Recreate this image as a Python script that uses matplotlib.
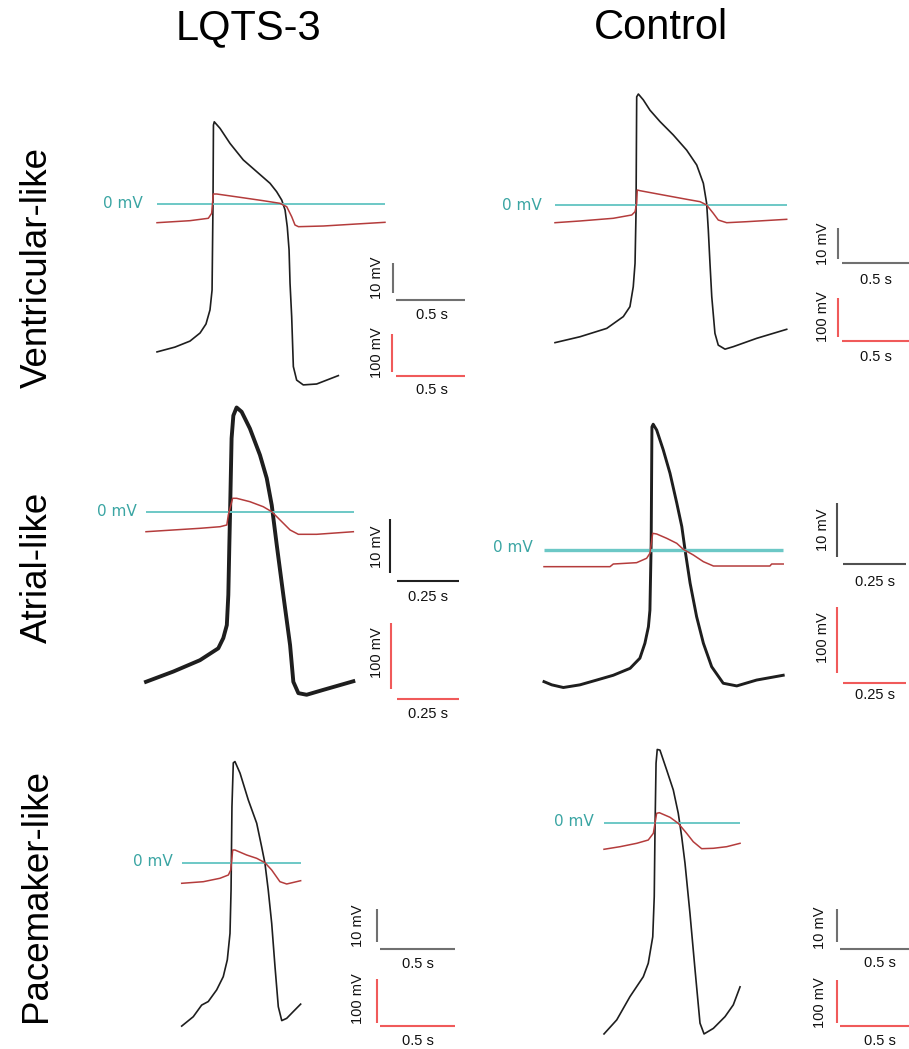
import matplotlib
matplotlib.use("Agg")
import matplotlib.pyplot as plt

W, H = 909, 1049

# ---------------- data (time in s, voltage in mV) ----------------
col_titles = ["LQTS-3", "Control"]
row_titles = ["Ventricular-like", "Atrial-like", "Pacemaker-like"]

# LQTS-3 ventricular-like
lv_black_t = [0.000, 0.130, 0.239, 0.312, 0.355, 0.384, 0.399, 0.406, 0.409, 0.415, 0.457, 0.529,
              0.625, 0.722, 0.819, 0.867, 0.904, 0.928, 0.944, 0.957, 0.964, 0.976, 0.988, 1.012,
              1.060, 1.157, 1.314]
lv_black_v = [-49.3, -47.7, -45.7, -43.0, -40.0, -35.3, -28.7, 1.3, 26.3, 27.4, 25.2, 20.2,
              14.7, 10.8, 6.9, 4.1, 1.3, -2.0, -7.6, -15.3, -26.4, -37.6, -54.2, -58.7,
              -60.3, -60.0, -57.2]
lv_red_t = [0.000, 0.239, 0.372, 0.396, 0.408, 0.433, 0.601, 0.770, 0.891, 0.940, 0.976, 1.000,
            1.025, 1.206, 1.447, 1.652]
lv_red_v = [-49.2, -43.9, -37.6, -24.5, 26.3, 26.3, 17.6, 8.7, 1.8, -7.1, -33.4, -55.3,
            -59.7, -57.9, -52.6, -48.2]

# Control ventricular-like
cv_black_t = [0.000, 0.181, 0.375, 0.495, 0.543, 0.567, 0.580, 0.587, 0.592, 0.604, 0.640, 0.688,
              0.761, 0.857, 0.954, 1.027, 1.075, 1.099, 1.111, 1.123, 1.136, 1.159, 1.183, 1.232,
              1.292, 1.462, 1.679]
cv_black_v = [-44.4, -42.5, -39.8, -36.0, -32.8, -26.4, -18.8, -2.7, 34.9, 35.8, 33.9, 30.6,
              26.9, 22.6, 17.7, 12.9, 7.0, 0.5, -8.1, -18.8, -29.6, -41.4, -45.2, -46.5,
              -45.7, -43.0, -40.1]
cv_red_t = [0.000, 0.181, 0.422, 0.556, 0.580, 0.592, 0.596, 0.616, 0.785, 0.954, 1.051, 1.099,
            1.147, 1.183, 1.244, 1.389, 1.679]
cv_red_v = [-45.4, -41.0, -34.1, -25.6, -17.2, 4.4, 38.5, 36.7, 25.6, 14.6, 8.5, 0.0,
            -21.3, -38.5, -45.4, -42.8, -36.7]

# LQTS-3 atrial-like
la_black_t = [0.000, 0.109, 0.215, 0.288, 0.308, 0.322, 0.328, 0.332, 0.335, 0.341, 0.348, 0.361,
              0.381, 0.414, 0.454, 0.481, 0.501, 0.521, 0.547, 0.574, 0.587, 0.607, 0.640, 0.706,
              0.826]
la_black_v = [-31.5, -29.6, -27.5, -25.3, -23.4, -21.0, -15.4, -6.2, 0.0, 13.6, 17.8, 19.3,
              18.5, 15.4, 10.5, 6.2, 1.2, -6.2, -15.4, -24.7, -31.5, -33.6, -33.9, -33.0,
              -31.4]
la_red_t = [0.000, 0.109, 0.215, 0.295, 0.322, 0.328, 0.345, 0.361, 0.414, 0.467, 0.501, 0.534,
            0.574, 0.607, 0.680, 0.826]
la_red_v = [-30.0, -27.4, -24.9, -22.5, -19.9, -4.9, 20.1, 20.1, 15.0, 7.5, 0.0, -12.4,
            -27.4, -33.9, -33.9, -30.0]

# Control atrial-like
ca_black_t = [0.000, 0.031, 0.077, 0.143, 0.210, 0.276, 0.343, 0.382, 0.402, 0.416, 0.422, 0.427,
              0.430, 0.435, 0.449, 0.475, 0.502, 0.529, 0.549, 0.562, 0.582, 0.608, 0.635, 0.668,
              0.714, 0.768, 0.847, 0.953]
ca_black_v = [-24.7, -25.3, -25.8, -25.3, -24.4, -23.5, -22.2, -20.3, -17.5, -14.4, -11.3, 1.3,
              23.1, 23.6, 22.5, 18.8, 14.4, 8.8, 4.4, 0.0, -6.2, -12.5, -17.5, -21.9,
              -25.0, -25.5, -24.4, -23.5]
ca_red_t = [0.000, 0.263, 0.276, 0.369, 0.409, 0.422, 0.433, 0.449, 0.489, 0.529, 0.555, 0.595,
            0.635, 0.675, 0.900, 0.907, 0.953]
ca_red_v = [-25.0, -25.0, -21.0, -19.0, -12.4, -4.9, 25.0, 24.0, 17.5, 10.0, 1.0, -7.5,
            -17.5, -24.0, -24.0, -21.0, -21.0]

# LQTS-3 pacemaker-like
lp_black_t = [0.000, 0.077, 0.133, 0.177, 0.233, 0.277, 0.304, 0.322, 0.329, 0.335, 0.344, 0.355,
              0.389, 0.444, 0.500, 0.533, 0.555, 0.577, 0.600, 0.622, 0.644, 0.667, 0.700, 0.744,
              0.793]
lp_black_v = [-50.4, -47.5, -43.9, -42.8, -39.2, -35.1, -29.9, -21.7, -8.3, 17.5, 31.1, 31.5,
              27.9, 19.6, 12.4, 5.1, 0.0, -8.3, -18.6, -32.0, -44.4, -48.7, -48.0, -45.9,
              -43.6]
lp_red_t = [0.000, 0.144, 0.255, 0.311, 0.327, 0.340, 0.355, 0.433, 0.500, 0.555, 0.600, 0.655,
            0.700, 0.793]
lp_red_v = [-46.2, -42.5, -34.6, -27.0, -15.5, 30.7, 30.7, 19.2, 11.5, 1.4, -15.5, -42.5,
            -47.8, -40.2]

# Control pacemaker-like
cp_black_t = [0.000, 0.085, 0.173, 0.262, 0.295, 0.325, 0.335, 0.340, 0.347, 0.355, 0.373, 0.418,
              0.462, 0.495, 0.518, 0.540, 0.573, 0.607, 0.640, 0.667, 0.729, 0.807, 0.862, 0.907]
cp_black_v = [-64.6, -60.3, -53.2, -47.1, -43.0, -34.9, -22.6, -2.2, 18.2, 22.4, 22.2, 16.1,
              10.0, 2.9, -4.3, -12.4, -27.7, -45.0, -61.3, -64.6, -62.9, -59.3, -55.7, -50.2]
cp_red_t = [0.000, 0.107, 0.218, 0.295, 0.329, 0.351, 0.369, 0.440, 0.495, 0.551, 0.595, 0.651,
            0.729, 0.818, 0.907]
cp_red_v = [-61.4, -55.4, -47.6, -40.0, -24.5, 21.7, 23.1, 12.5, -1.4, -24.5, -43.9, -60.0,
            -59.1, -55.4, -47.6]

zero_line_end = [1.652, 1.68, 0.83, 0.953, 0.793, 0.907]   # s
black_bar_mv = 10
red_bar_mv = 100
time_bar_s = [0.5, 0.5, 0.25, 0.25, 0.5, 0.5]
time_bar_lbl = ["0.5 s", "0.5 s", "0.25 s", "0.25 s", "0.5 s", "0.5 s"]

traces = [
    (lv_black_t, lv_black_v, lv_red_t, lv_red_v),
    (cv_black_t, cv_black_v, cv_red_t, cv_red_v),
    (la_black_t, la_black_v, la_red_t, la_red_v),
    (ca_black_t, ca_black_v, ca_red_t, ca_red_v),
    (lp_black_t, lp_black_v, lp_red_t, lp_red_v),
    (cp_black_t, cp_black_v, cp_red_t, cp_red_v),
]

# ---------------- layout (pixel geometry of each panel) ----------------
# x0, y0: pixel of (t=0, 0 mV); pps: px per s; pmb/pmr: px per mV (black/red)
layout = [
    dict(x0=157, y0=204, pps=138, pmb=3.0, pmr=0.38, lw=1.2, zlw=1.4, zl=(143, 204),
         gb=(393, 293), gh=(396, 300), rb=(392, 372), rh=(396, 376),
         t10=(377, 278), ts1=(432, 315), t100=(377, 353), ts2=(432, 390), bcol="#707070"),
    dict(x0=555, y0=205, pps=138, pmb=3.1, pmr=0.39, lw=1.2, zlw=1.4, zl=(542, 205),
         gb=(838, 259.3), gh=(842, 263.3), rb=(838, 337.3), rh=(842, 340.7),
         t10=(823, 244), ts1=(876, 280), t100=(823, 317), ts2=(876, 357), bcol="#707070"),
    dict(x0=146, y0=511.7, pps=251, pmb=5.4, pmr=0.667, lw=2.8, zlw=1.4, zl=(137, 511),
         gb=(390, 573.3), gh=(396.7, 581), rb=(391, 689.3), rh=(396.7, 699),
         t10=(376.7, 547), ts1=(428.3, 596.7), t100=(376.7, 653), ts2=(428, 714), bcol="#202020"),
    dict(x0=544, y0=550, pps=251, pmb=5.33, pmr=0.667, lw=2.1, zlw=2.4, zl=(533, 548),
         gb=(836.7, 556.7), gh=(843.3, 564.3), rb=(836.7, 673.3), rh=(843, 682.7),
         t10=(823.3, 530), ts1=(875, 581.7), t100=(823.3, 638), ts2=(875, 695), bcol="#505050"),
    dict(x0=181.7, y0=863.3, pps=150, pmb=3.23, pmr=0.433, lw=1.2, zlw=1.4, zl=(172.7, 862),
         gb=(376.7, 941.7), gh=(380, 949), rb=(376.7, 1022.7), rh=(380, 1025.7),
         t10=(358.3, 926), ts1=(418, 964), t100=(358.3, 999), ts2=(418, 1041), bcol="#707070"),
    dict(x0=604, y0=822.7, pps=150, pmb=3.27, pmr=0.433, lw=1.2, zlw=1.4, zl=(594, 822),
         gb=(837.3, 942), gh=(840, 949), rb=(837.3, 1023.3), rh=(840, 1025.7),
         t10=(820, 928), ts1=(880, 963), t100=(820, 1003), ts2=(880, 1041), bcol="#707070"),
]

BLACK = "#1e1e1e"
RED_TRACE = "#b43c3c"
RED_BAR = "#f05a5a"
TEAL = "#6cc8c6"
TEAL_TXT = "#3aa5a3"
SANS = ["Liberation Sans", "DejaVu Sans"]

fig = plt.figure(figsize=(W / 100, H / 100), dpi=100)


def fx(px):
    return px / W


def fy(py):
    return 1 - py / H


for (bt, bv, rt, rv), L, zend, tb, tbl in zip(traces, layout, zero_line_end, time_bar_s, time_bar_lbl):
    x0, y0, pps, pmb, pmr = L["x0"], L["y0"], L["pps"], L["pmb"], L["pmr"]
    xlim = (-x0 / pps, (W - x0) / pps)
    axb = fig.add_axes([0, 0, 1, 1], facecolor="none")
    axr = fig.add_axes([0, 0, 1, 1], facecolor="none")
    axb.set_xlim(*xlim)
    axr.set_xlim(*xlim)
    axb.set_ylim((y0 - H) / pmb, y0 / pmb)
    axr.set_ylim((y0 - H) / pmr, y0 / pmr)
    for a in (axb, axr):
        a.axis("off")

    # zero line
    axr.plot([0, zend], [0, 0], color=TEAL, lw=L["zlw"], solid_capstyle="butt", zorder=1)
    # traces
    axb.plot(bt, bv, color=BLACK, lw=L["lw"], solid_joinstyle="round", zorder=3)
    axr.plot(rt, rv, color=RED_TRACE, lw=1.1, solid_joinstyle="round", zorder=2)
    fig.text(fx(L["zl"][0]), fy(L["zl"][1]), "0 mV", color=TEAL_TXT, fontsize=11,
             family="DejaVu Sans", ha="right", va="center")

    # black scale bar
    gx, gyb = L["gb"]
    tx = (gx - x0) / pps
    vb = (y0 - gyb) / pmb
    axb.plot([tx, tx], [vb, vb + black_bar_mv], color=L["bcol"], lw=1.5, solid_capstyle="butt")
    hx, hy = L["gh"]
    th = (hx - x0) / pps
    vh = (y0 - hy) / pmb
    axb.plot([th, th + tb], [vh, vh], color=L["bcol"], lw=1.5, solid_capstyle="butt")

    # red scale bar
    rx, ryb = L["rb"]
    tx = (rx - x0) / pps
    vb = (y0 - ryb) / pmr
    axr.plot([tx, tx], [vb, vb + red_bar_mv], color=RED_BAR, lw=1.5, solid_capstyle="butt")
    hx, hy = L["rh"]
    th = (hx - x0) / pps
    vh = (y0 - hy) / pmr
    axr.plot([th, th + tb], [vh, vh], color=RED_BAR, lw=1.5, solid_capstyle="butt")

    fig.text(fx(L["t10"][0]), fy(L["t10"][1]), f"{black_bar_mv} mV", rotation=90,
             fontsize=10.5, family=SANS, ha="center", va="center", color="#111111")
    fig.text(fx(L["t100"][0]), fy(L["t100"][1]), f"{red_bar_mv} mV", rotation=90,
             fontsize=10.5, family=SANS, ha="center", va="center", color="#111111")
    fig.text(fx(L["ts1"][0]), fy(L["ts1"][1]), tbl, fontsize=10.5, family=SANS,
             ha="center", va="center", color="#111111")
    fig.text(fx(L["ts2"][0]), fy(L["ts2"][1]), tbl, fontsize=10.5, family=SANS,
             ha="center", va="center", color="#111111")

# column and row titles
for name, cx in zip(col_titles, [248, 661]):
    fig.text(fx(cx), fy(28), name, fontsize=30, family=SANS, ha="center", va="center")
for name, cy in zip(row_titles, [267, 567, 895]):
    fig.text(fx(37), fy(cy), name, fontsize=26.5, family=SANS, rotation=90,
             ha="center", va="center")

fig.savefig("out.png", dpi=100, facecolor="white")
